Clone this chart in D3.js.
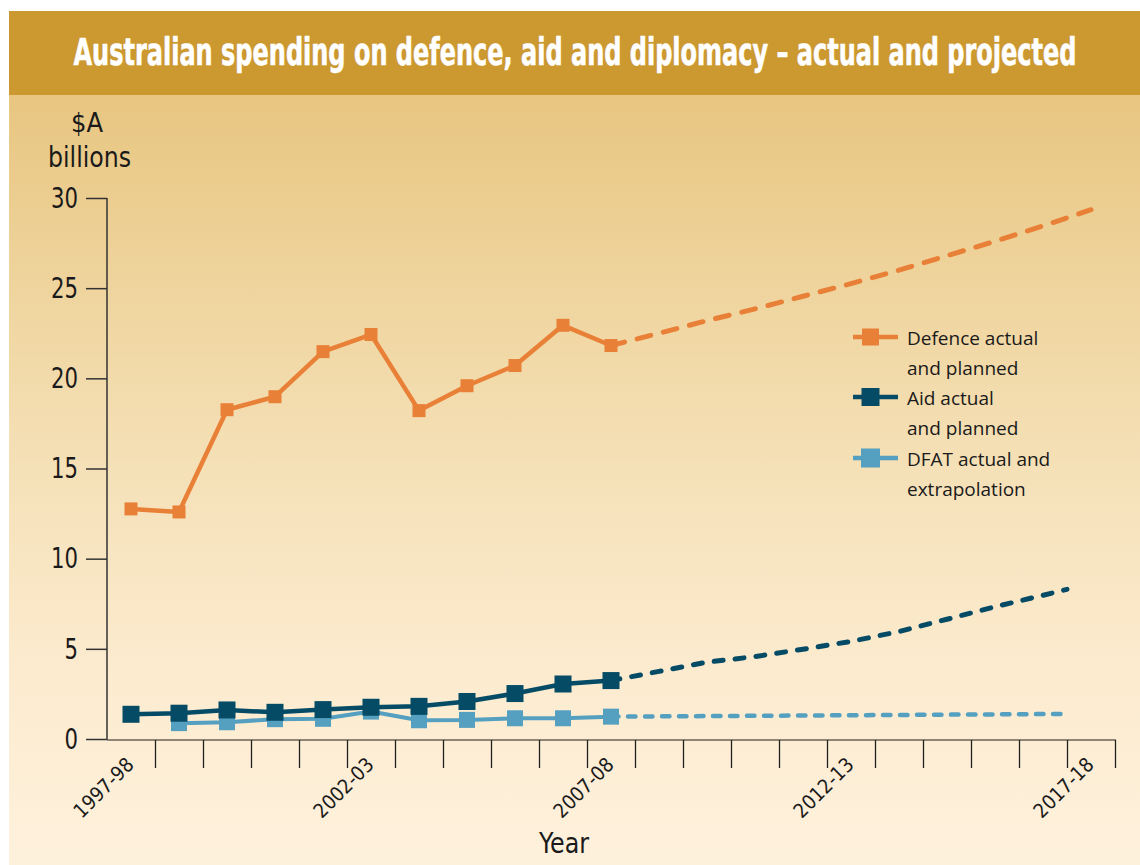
<!DOCTYPE html>
<html>
<head>
<meta charset="utf-8">
<script src="https://cdnjs.cloudflare.com/ajax/libs/d3/7.8.5/d3.min.js"></script>
<style>
body { margin:0; background:#fff; }
.narrow { font-family:"Liberation Sans Narrow","Arial Narrow","DejaVu Sans Condensed",sans-serif; }
.legend { font-family:"Open Sans","Noto Sans",sans-serif; }
</style>
</head>
<body>
<div id="canvas"></div>
<script>
// data ($A billions)
var yearLabels = ['1997-98','1998-99','1999-00','2000-01','2001-02','2002-03','2003-04','2004-05',
  '2005-06','2006-07','2007-08','2008-09','2009-10','2010-11','2011-12','2012-13','2013-14',
  '2014-15','2015-16','2016-17','2017-18'];
var firstYear = 1997;
var labelYears = [1997, 2002, 2007, 2012, 2017];
var yTicks = [0, 5, 10, 15, 20, 25, 30];

var actualYears = [1997,1998,1999,2000,2001,2002,2003,2004,2005,2006,2007];
var defenceActual = [12.76, 12.59, 18.26, 18.98, 21.48, 22.43, 18.21, 19.59, 20.71, 22.94, 21.82];
var aidActual = [1.37, 1.43, 1.61, 1.48, 1.63, 1.76, 1.81, 2.08, 2.52, 3.05, 3.24];
var dfatActual = [null, 0.88, 0.93, 1.10, 1.12, 1.52, 1.04, 1.06, 1.15, 1.15, 1.24];

var defenceProjYears = [2007,2008,2009,2010,2011,2012,2013,2014,2015,2016,2017];
var defenceProj = [21.82, 22.5, 23.2, 23.85, 24.55, 25.25, 26.0, 26.8, 27.6, 28.45, 29.35];
var aidProjYears = [2007,2008,2009,2010,2011,2012,2013,2014,2015,2016,2016.5];
var aidProj = [3.24, 3.75, 4.26, 4.57, 4.98, 5.41, 5.96, 6.64, 7.33, 7.97, 8.3];
var dfatProjYears = [2007, 2016.5];
var dfatProj = [1.24, 1.39];

var seriesNames = [['Defence actual','and planned'], ['Aid actual','and planned'], ['DFAT actual and','extrapolation']];
var seriesColors = ['#E98037', '#054B66', '#55A0C0'];

var W = 1140, H = 865;

var svg = d3.select('#canvas').append('svg')
  .attr('width', W)
  .attr('height', H);

// squeeze a text horizontally so it spans w pixels (the original face is condensed)
function squeeze(sel, w, cx, cy) {
  var len = sel.node().getComputedTextLength();
  sel.attr('x', 0).attr('y', 0)
    .attr('transform', 'translate(' + cx + ',' + cy + ') scale(' + (w / len) + ',1)');
}

// background gradient
var grad = svg.append('defs').append('linearGradient')
  .attr('id','bg').attr('x1',0).attr('y1',0).attr('x2',0).attr('y2',1);
grad.append('stop').attr('offset','0%').attr('stop-color','#E8C681');
grad.append('stop').attr('offset','45%').attr('stop-color','#F4DFB4');
grad.append('stop').attr('offset','75%').attr('stop-color','#FCEBCF');
grad.append('stop').attr('offset','100%').attr('stop-color','#FEF1DC');

svg.append('rect').attr('x',9).attr('y',95).attr('width',W-9).attr('height',H-95).attr('fill','url(#bg)');
svg.append('rect').attr('x',9).attr('y',11).attr('width',W-9).attr('height',84).attr('fill','#CC9830');

var title = svg.append('text')
  .attr('class','narrow')
  .attr('text-anchor','middle')
  .style('font-size','37px').style('font-weight','bold').style('fill','#fff')
  .style('stroke','#fff').style('stroke-width',0.6)
  .text('Australian spending on defence, aid and diplomacy \u2013 actual and projected');
squeeze(title, 1003, 575, 65);

// scales
var x = d3.scaleLinear().domain([firstYear - 0.5, firstYear + yearLabels.length - 0.5]).range([107, 1115]);
var y = d3.scaleLinear().domain([0, 30]).range([739, 198]);

// y axis
var yAxis = d3.axisLeft(y).tickValues(yTicks).tickSize(21).tickPadding(8);
var gy = svg.append('g').attr('transform','translate(107,0)').call(yAxis);
gy.select('.domain').attr('stroke','#333').attr('stroke-width',1.5).attr('d','M0,' + y(30) + 'V' + (y(0)+1));
gy.selectAll('.tick line').attr('stroke','#333').attr('stroke-width',1.5);
var yText = gy.selectAll('.tick text').attr('class','narrow').style('font-size','29px').style('fill','#1a1a1a');
var ySx = 27 / yText.filter(function(d) { return d === 30; }).node().getComputedTextLength();
yText.attr('x', 0).attr('transform', 'translate(-29,0) scale(' + ySx + ',1)');

// x axis: ticks sit between the years
var xTickVals = yearLabels.map(function(d, i) { return firstYear + i + 0.5; });
var xAxis = d3.axisBottom(x).tickValues(xTickVals).tickSize(28).tickFormat('');
var gx = svg.append('g').attr('transform','translate(0,740)').call(xAxis);
gx.select('.domain').attr('stroke','#6b6256').attr('stroke-width',1.5).attr('d','M107,0H1116');
gx.selectAll('.tick line').attr('stroke','#222').attr('stroke-width',1.3);

svg.selectAll('.xlab').data(labelYears).enter()
  .append('text')
  .attr('class','narrow xlab')
  .attr('text-anchor','end')
  .attr('transform', function(d) { return 'translate(' + (x(d) + 4) + ',766) rotate(-45)'; })
  .style('font-size','20px').style('fill','#1a1a1a')
  .text(function(d) { return yearLabels[d - firstYear]; });

var yearT = svg.append('text').attr('class','narrow').attr('text-anchor','middle')
  .style('font-size','29px').style('fill','#1a1a1a').text('Year');
squeeze(yearT, 50, 564, 853);

var unitA = svg.append('text').attr('class','narrow').attr('text-anchor','middle')
  .style('font-size','27px').style('fill','#1a1a1a').text('$A');
squeeze(unitA, 32, 87, 132);
var unitB = svg.append('text').attr('class','narrow').attr('text-anchor','middle')
  .style('font-size','29px').style('fill','#1a1a1a').text('billions');
squeeze(unitB, 83, 89.5, 167);

// build series (drawn dfat first so aid sits on top)
function pairs(years, vals) {
  return years.map(function(d, i) { return { year: d, v: vals[i] }; });
}
var series = [
  { actual: pairs(actualYears, dfatActual), proj: pairs(dfatProjYears, dfatProj), color: seriesColors[2], size: 16, width: 4, dash: '7.5,9.5' },
  { actual: pairs(actualYears, aidActual), proj: pairs(aidProjYears, aidProj), color: seriesColors[1], size: 17, width: 4.5, dash: '9,12' },
  { actual: pairs(actualYears, defenceActual), proj: pairs(defenceProjYears, defenceProj), color: seriesColors[0], size: 13, width: 4.5, dash: '14,13' }
];

var line = d3.line()
  .defined(function(d) { return d.v != null; })
  .x(function(d) { return x(d.year); })
  .y(function(d) { return y(d.v); });

series.forEach(function(s) {
  var g = svg.append('g');
  g.append('path').datum(s.proj)
    .attr('d', line)
    .attr('fill','none').attr('stroke', s.color).attr('stroke-width', s.width + 0.5)
    .attr('stroke-dasharray', s.dash).attr('stroke-linecap','round');
  g.append('path').datum(s.actual)
    .attr('d', line)
    .attr('fill','none').attr('stroke', s.color).attr('stroke-width', s.width)
    .attr('stroke-linejoin','round');
  g.selectAll('rect').data(s.actual.filter(function(d) { return d.v != null; })).enter()
    .append('rect')
    .attr('x', function(d) { return x(d.year) - s.size / 2; })
    .attr('y', function(d) { return y(d.v) - s.size / 2; })
    .attr('width', s.size).attr('height', s.size)
    .attr('fill', s.color);
});

// legend
var legendY = [337, 397, 458];
var legendSize = [17, 18, 19];
var lg = svg.selectAll('.leg').data(seriesNames).enter()
  .append('g').attr('class','leg')
  .attr('transform', function(d, i) { return 'translate(0,' + legendY[i] + ')'; });
lg.append('line').attr('x1',853).attr('x2',898).attr('y1',0).attr('y2',0)
  .attr('stroke', function(d, i) { return seriesColors[i]; }).attr('stroke-width',4.5);
lg.append('rect')
  .attr('x', function(d, i) { return 870.5 - legendSize[i] / 2; })
  .attr('y', function(d, i) { return -legendSize[i] / 2; })
  .attr('width', function(d, i) { return legendSize[i]; })
  .attr('height', function(d, i) { return legendSize[i]; })
  .attr('fill', function(d, i) { return seriesColors[i]; });
lg.append('text').attr('class','legend')
  .attr('x',907).attr('y',8)
  .style('font-size','19px').style('fill','#1a1a1a')
  .selectAll('tspan').data(function(d) { return d; }).enter()
  .append('tspan')
  .attr('x',907)
  .attr('dy', function(d, i) { return i ? 29.5 : 0; })
  .text(function(d) { return d; });
</script>
</body>
</html>
